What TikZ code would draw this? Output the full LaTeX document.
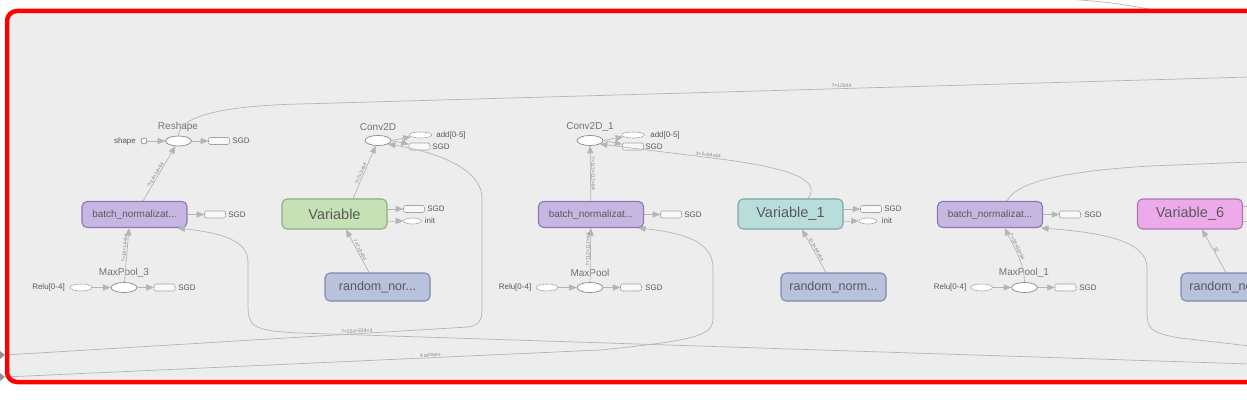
\documentclass[tikz,border=0pt]{standalone}
\usepackage{fontspec}
\setmainfont{Liberation Sans}
\usetikzlibrary{arrows,shapes.geometric}
\definecolor{panel}{HTML}{EDEDED}
\definecolor{wirecol}{HTML}{B5B5B5}
\definecolor{ink}{HTML}{5A5A5A}
\definecolor{bnfill}{HTML}{C7B6E2}
\definecolor{bnline}{HTML}{8C78B2}
\definecolor{varfill}{HTML}{C6E1B5}
\definecolor{varline}{HTML}{8DAF79}
\definecolor{vaofill}{HTML}{B9DDDA}
\definecolor{vaoline}{HTML}{79A8A5}
\definecolor{vasfill}{HTML}{ECAAEA}
\definecolor{vasline}{HTML}{B074B0}
\definecolor{rndfill}{HTML}{B8C2DD}
\definecolor{rndline}{HTML}{8089A8}
\tikzset{
	grpbox/.style={draw, rounded corners=5pt, line width=1.1pt, minimum width=105pt, minimum height=26pt, inner sep=0pt, text=ink},
	bnbox/.style={grpbox, fill=bnfill, draw=bnline, font=\fontsize{10}{10}\selectfont},
	varbox/.style={grpbox, minimum height=30pt, font=\fontsize{14.5}{14.5}\selectfont},
	rndbox/.style={grpbox, fill=rndfill, draw=rndline, minimum height=28pt, font=\fontsize{12.5}{12.5}\selectfont},
	opnode/.style={ellipse, draw=wirecol!75!black, fill=white, line width=0.7pt, minimum width=26pt, minimum height=10pt, inner sep=0pt},
	dashbox/.style={draw=wirecol!85!black, line width=0.6pt, dash pattern=on 2pt off 1pt, fill=panel!40!white, rounded corners=1.5pt, minimum width=21pt, minimum height=7pt, inner sep=0pt},
	dashell/.style={ellipse, draw=wirecol!85!black, line width=0.6pt, dash pattern=on 2pt off 1pt, fill=white, minimum width=22pt, minimum height=7pt, inner sep=0pt},
	smalltxt/.style={text=ink, font=\fontsize{8}{8}\selectfont, inner sep=0pt},
	optxt/.style={text=ink!85, font=\fontsize{10}{10}\selectfont, inner sep=0pt},
	wire/.style={draw=wirecol, line width=0.7pt},
	shapelbl/.style={text=ink!75, font=\fontsize{5}{5}\selectfont, sloped, inner sep=0.5pt},
}
\begin{document}
\begin{tikzpicture}
	[line cap=round,line join=round,>=triangle 45,x=1pt,y=-1pt]
	\useasboundingbox (0,0) rectangle (1247,406);
	\fill[panel,rounded corners=10pt] (7,11) rectangle (1300,382);
	\draw[wire] (1050,-2) .. controls (1110,2) .. (1165,12);
	\node[opnode] (rsh) at (178.5,141) {};
	\node[optxt] (rshl) at (178,127) {Reshape};
	\node[smalltxt] (shpl) at (125,141) {shape};
	\node[circle, draw=wirecol!75!black, fill=white, line width=0.7pt, minimum size=6pt, inner sep=0pt] (shpc) at (144,141) {};
	\node[dashbox] (rshsg) at (219,141) {};
	\node[smalltxt] (rshsgl) at (241,141) {SGD};
	\node[bnbox] (bna) at (134.5,214.5) {batch\_normalizat...};
	\node[dashbox] (bnasg) at (215,214.5) {};
	\node[smalltxt] (bnasgl) at (237,214.5) {SGD};
	\node[opnode] (mpa) at (124,287.5) {};
	\node[optxt] (mpal) at (124,273) {MaxPool\_3};
	\node[smalltxt] (rlal) at (48.5,287.5) {Relu[0-4]};
	\node[dashell] (rla) at (81,287.5) {};
	\node[dashbox] (mpasg) at (164.5,287.5) {};
	\node[smalltxt] (mpasgl) at (187,287.5) {SGD};
	\node[opnode] (cva) at (378,140.5) {};
	\node[optxt] (cval) at (378,127) {Conv2D};
	\node[dashell, minimum width=23pt, minimum height=6pt] (cvaad) at (420.5,135) {};
	\node[smalltxt] (cvaadl) at (451,135) {add[0-5]};
	\node[dashbox] (cvasg) at (419.5,146.5) {};
	\node[smalltxt] (cvasgl) at (441,146.5) {SGD};
	\node[varbox, fill=varfill, draw=varline] (var) at (334.5,214) {Variable};
	\node[dashbox] (varsg) at (414,209) {};
	\node[smalltxt] (varsgl) at (436,209) {SGD};
	\node[dashell, minimum width=18pt, minimum height=6pt] (varin) at (412.5,221) {};
	\node[smalltxt] (varinl) at (430,221) {init};
	\node[rndbox] (rnda) at (377.5,287) {random\_nor...};
	\node[opnode] (cvb) at (590,140.5) {};
	\node[optxt] (cvbl) at (590,127) {Conv2D\_1};
	\node[dashell, minimum width=23pt, minimum height=6pt] (cvbad) at (633,135) {};
	\node[smalltxt] (cvbadl) at (665,135) {add[0-5]};
	\node[dashbox] (cvbsg) at (633,146.5) {};
	\node[smalltxt] (cvbsgl) at (654,146.5) {SGD};
	\node[bnbox] (bnb) at (591,214.5) {batch\_normalizat...};
	\node[dashbox] (bnbsg) at (671,214.5) {};
	\node[smalltxt] (bnbsgl) at (693,214.5) {SGD};
	\node[opnode] (mpb) at (590,287.5) {};
	\node[optxt] (mpbl) at (590,273) {MaxPool};
	\node[smalltxt] (rlbl) at (515,287.5) {Relu[0-4]};
	\node[dashell] (rlb) at (547,287.5) {};
	\node[dashbox] (mpbsg) at (631,287.5) {};
	\node[smalltxt] (mpbsgl) at (654,287.5) {SGD};
	\node[varbox, fill=vaofill, draw=vaoline] (vao) at (790.5,214) {Variable\_1};
	\node[dashbox] (vaosg) at (871,209) {};
	\node[smalltxt] (vaosgl) at (893,209) {SGD};
	\node[dashell, minimum width=18pt, minimum height=6pt] (vaoin) at (868,221) {};
	\node[smalltxt] (vaoinl) at (887,221) {init};
	\node[rndbox] (rndb) at (833.5,287) {random\_norm...};
	\node[bnbox] (bnc) at (990,214.5) {batch\_normalizat...};
	\node[dashbox] (bncsg) at (1070,214.5) {};
	\node[smalltxt] (bncsgl) at (1093,214.5) {SGD};
	\node[opnode] (mpc) at (1024.5,287.5) {};
	\node[optxt] (mpcl) at (1024,273) {MaxPool\_1};
	\node[smalltxt] (rlcl) at (950,287.5) {Relu[0-4]};
	\node[dashell] (rlc) at (981.5,287.5) {};
	\node[dashbox] (mpcsg) at (1065.5,287.5) {};
	\node[smalltxt] (mpcsgl) at (1088,287.5) {SGD};
	\node[varbox, fill=vasfill, draw=vasline] (vas) at (1190,214) {Variable\_6};
	\node[rndbox] (rndc) at (1233.5,287) {random\_norm...};
	\coordinate (lfa) at (5,355);
	\coordinate (lfb) at (5,377);
	\coordinate (rta) at (1250,77);
	\coordinate (rtc) at (1250,364);
	\coordinate (rtd) at (1250,346);
	\coordinate (rte) at (1250,162);
	\draw[wire,->] (shpc) -- (rsh);
	\draw[wire,->] (rsh) -- (rshsg);
	\draw[wire,->] ([xshift=8.5pt]bna.north) -- (rsh) node[pos=0.45, shapelbl, above] {?×14×14×64};
	\draw[wire,->] (bna) -- (bnasg);
	\draw[wire,->] (rla) -- (mpa);
	\draw[wire,->] (mpa) -- (mpasg);
	\draw[wire,->] (mpa) -- ([xshift=-5.5pt]bna.south) node[pos=0.62, shapelbl, above] {?×14×14×64};
	\draw[wire] (rsh.north) .. controls (179,118) and (215,106) .. (300,104) -- (rta) node[pos=0.57, shapelbl, above] {?×12544};
	\draw[wire,->] (rtc) -- (300,333) .. controls (252,331) and (248,326) .. (248,305) -- (248,262) .. controls (248,238) and (215,232) .. ([xshift=-10pt]bna.south east);
	\draw[wire,->] (cva.east) -- (cvaad);
	\draw[wire,->] (cva.east) -- (cvasg);
	\draw[wire,->] ([xshift=18.5pt]var.north) -- (cva) node[pos=0.45, shapelbl, above] {7×7×3×64};
	\draw[wire,->] (var.east |- varsg) -- (varsg);
	\draw[wire,->, dash pattern=on 1pt off 1.5pt] (var.east |- varin) -- (varin);
	\draw[wire,->] ([xshift=-8.5pt]rnda.north) -- ([xshift=11.5pt]var.south) node[midway, shapelbl, above] {7×7×3×64};
	\draw[wire,->] (lfa) -- (468,327) node[pos=0.76, shapelbl, above] {?×224×224×3} .. controls (480,325) and (482,320) .. (482,308) -- (482,198) .. controls (482,170) and (440,152) .. (cva.-20);
	\fill[wirecol!80!black] (0,351) -- (5,355) -- (0,359) -- cycle;
	\draw[wire,->] (cvb.east) -- (cvbad);
	\draw[wire,->] (cvb.east) -- (cvbsg);
	\draw[wire,->] (bnb) -- (cvb) node[midway, shapelbl, above] {?×112×112×64};
	\draw[wire,->] (bnb) -- (bnbsg);
	\draw[wire,->] (rlb) -- (mpb);
	\draw[wire,->] (mpb) -- (mpbsg);
	\draw[wire,->] (mpb) -- (bnb) node[pos=0.6, shapelbl, above] {?×112×112×64};
	\draw[wire,->] (lfb) -- (600,350) node[pos=0.715, shapelbl, above] {4 tensors} .. controls (700,340) and (713,335) .. (713,318) -- (713,268) .. controls (713,240) and (680,232) .. ([xshift=-6pt]bnb.south east);
	\fill[wirecol!80!black] (0,373) -- (5,377) -- (0,381) -- cycle;
	\draw[wire,->] (vao.east |- vaosg) -- (vaosg);
	\draw[wire,->, dash pattern=on 1pt off 1.5pt] (vao.east |- vaoin) -- (vaoin);
	\draw[wire,->] ([xshift=-7.5pt]rndb.north) -- ([xshift=11.5pt]vao.south) node[midway, shapelbl, above] {3×3×64×64};
	\draw[wire,->] ([xshift=17.5pt]vao.north) .. controls (822,180) and (790,168) .. (720,159) -- (cvb.-20) node[pos=0.1, shapelbl, above] {3×3×64×64};
	\draw[wire,->] (bnc) -- (bncsg);
	\draw[wire,->] (rlc) -- (mpc);
	\draw[wire,->] (mpc) -- (mpcsg);
	\draw[wire,->] (mpc.north) .. controls (1024,260) and (1012,245) .. ([xshift=15pt]bnc.south) node[pos=0.6, shapelbl, above] {?×56×56×64};
	\draw[wire] ([xshift=17pt]bnc.north) .. controls (1015,185) and (1050,172) .. (1150,166) -- (rte);
	\draw[wire,->] (rtd) -- (1180,338) .. controls (1150,333) and (1147,328) .. (1147,312) -- (1147,268) .. controls (1147,240) and (1100,232) .. ([xshift=-2pt]bnc.south east);
	\draw[wire,->] ([xshift=-7.5pt]rndc.north) -- ([xshift=12pt]vas.south) node[midway, shapelbl, above] {32};
	\draw[wire] ([yshift=8pt]vas.east) -- ++(6,0);
	\draw[wire] ([yshift=-7pt]vas.east) -- ++(6,0);
	\draw[red, line width=4.5pt, rounded corners=10pt] (7,11) rectangle (1300,382);
\end{tikzpicture}
\end{document}
